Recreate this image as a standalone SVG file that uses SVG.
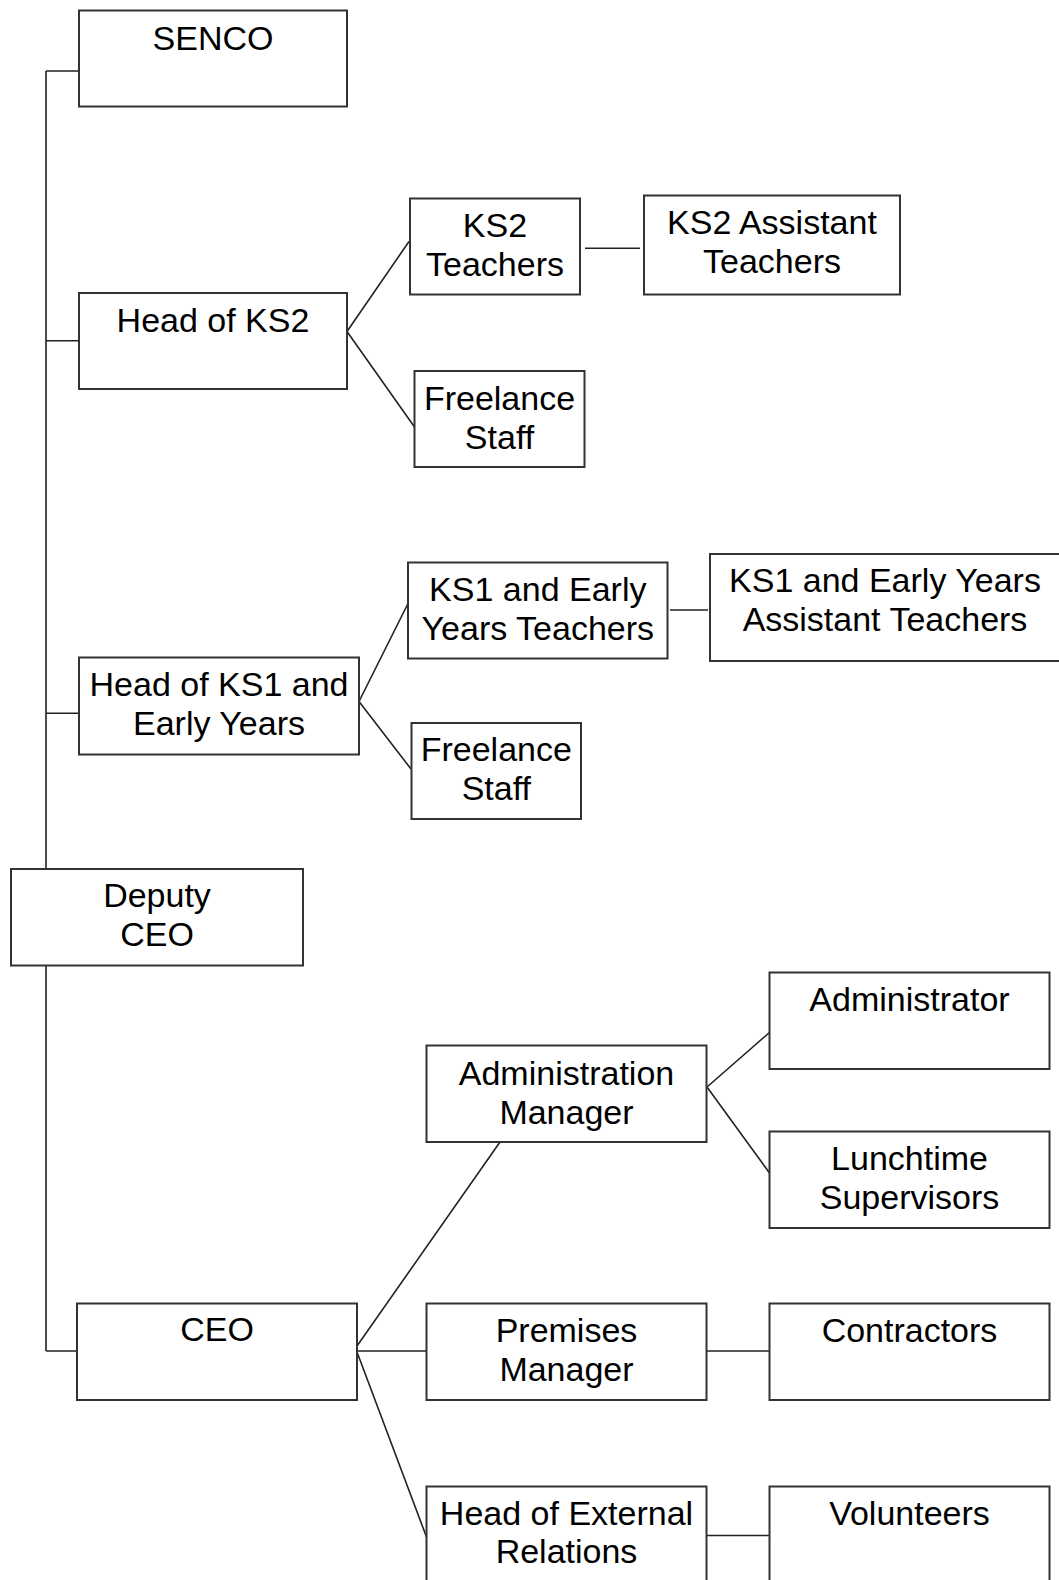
<svg xmlns="http://www.w3.org/2000/svg" width="1059" height="1580" viewBox="0 0 1059 1580">
<style>
.box{fill:#fff;stroke:#333;stroke-width:2}
.lbl{font-family:"Liberation Sans",Arial,sans-serif;font-size:34px;fill:#000;text-anchor:middle}
.con{fill:none;stroke:#222;stroke-width:1.6}
</style>
<rect width="1059" height="1580" fill="#fff"/>
<g id="connectors">
<path class="con" d="M46,71 V869 M46,965.5 V1351 M46,71 H79 M46,340.7 H79 M46,713.3 H79 M46,1351 H77"/>
<path class="con" d="M347,331.5 L409,241.5 M347,331.5 L414.5,427 M585,248.3 H640"/>
<path class="con" d="M359,701.5 L408,603.5 M359,701.5 L411,769 M670,610 H708"/>
<path class="con" d="M707,1087 L769.5,1032.5 M707,1087 L769.5,1173"/>
<path class="con" d="M357,1346 L500,1142 M357,1351 H426.5 M357,1352 L426.5,1537 M707,1351 H769.5 M707,1535.5 H769.5"/>
</g>
<g id="senco"><rect class="box" x="79" y="10.5" width="268" height="96"/><text class="lbl" x="213" y="49.5">SENCO</text></g>
<g id="head_ks2"><rect class="box" x="79" y="293" width="268" height="96"/><text class="lbl" x="213" y="331.5">Head of KS2</text></g>
<g id="ks2_teachers"><rect class="box" x="410" y="198.5" width="170" height="96"/><text class="lbl" x="495" y="237">KS2</text><text class="lbl" x="495" y="276">Teachers</text></g>
<g id="ks2_assistant"><rect class="box" x="644" y="195.5" width="256" height="99"/><text class="lbl" x="772" y="234.3">KS2 Assistant</text><text class="lbl" x="772" y="273.3">Teachers</text></g>
<g id="freelance_ks2"><rect class="box" x="414.5" y="371" width="170" height="96"/><text class="lbl" x="499.5" y="410">Freelance</text><text class="lbl" x="499.5" y="448.5">Staff</text></g>
<g id="ks1_teachers"><rect class="box" x="408" y="562.5" width="259.5" height="96"/><text class="lbl" x="537.8" y="601">KS1 and Early</text><text class="lbl" x="537.8" y="639.5">Years Teachers</text></g>
<g id="ks1_assistant"><rect class="box" x="710" y="554" width="356" height="107"/><text class="lbl" x="885" y="592.3">KS1 and Early Years</text><text class="lbl" x="885" y="631">Assistant Teachers</text></g>
<g id="head_ks1"><rect class="box" x="79" y="657.5" width="280" height="97"/><text class="lbl" x="219" y="696">Head of KS1 and</text><text class="lbl" x="219" y="735">Early Years</text></g>
<g id="freelance_ks1"><rect class="box" x="411.5" y="723" width="169.5" height="96"/><text class="lbl" x="496.3" y="760.5">Freelance</text><text class="lbl" x="496.3" y="799.5">Staff</text></g>
<g id="deputy_ceo"><rect class="box" x="11" y="869" width="292" height="96.5"/><text class="lbl" x="157" y="906.7">Deputy</text><text class="lbl" x="157" y="946">CEO</text></g>
<g id="administrator"><rect class="box" x="769.5" y="972.5" width="280" height="96.5"/><text class="lbl" x="909.5" y="1010.7">Administrator</text></g>
<g id="admin_manager"><rect class="box" x="426.5" y="1045.5" width="280" height="96.5"/><text class="lbl" x="566.5" y="1085">Administration</text><text class="lbl" x="566.5" y="1123.5">Manager</text></g>
<g id="lunchtime"><rect class="box" x="769.5" y="1131.5" width="280" height="96.5"/><text class="lbl" x="909.5" y="1170">Lunchtime</text><text class="lbl" x="909.5" y="1208.5">Supervisors</text></g>
<g id="ceo"><rect class="box" x="77" y="1303.5" width="280" height="96.5"/><text class="lbl" x="217" y="1341">CEO</text></g>
<g id="premises"><rect class="box" x="426.5" y="1303.5" width="280" height="96.5"/><text class="lbl" x="566.5" y="1342.3">Premises</text><text class="lbl" x="566.5" y="1380.7">Manager</text></g>
<g id="contractors"><rect class="box" x="769.5" y="1303.5" width="280" height="96.5"/><text class="lbl" x="909.5" y="1341.7">Contractors</text></g>
<g id="head_external"><rect class="box" x="426.5" y="1486.5" width="280" height="97"/><text class="lbl" x="566.5" y="1525">Head of External</text><text class="lbl" x="566.5" y="1563.3">Relations</text></g>
<g id="volunteers"><rect class="box" x="769.5" y="1486.5" width="280" height="97"/><text class="lbl" x="909.5" y="1525">Volunteers</text></g>
</svg>
